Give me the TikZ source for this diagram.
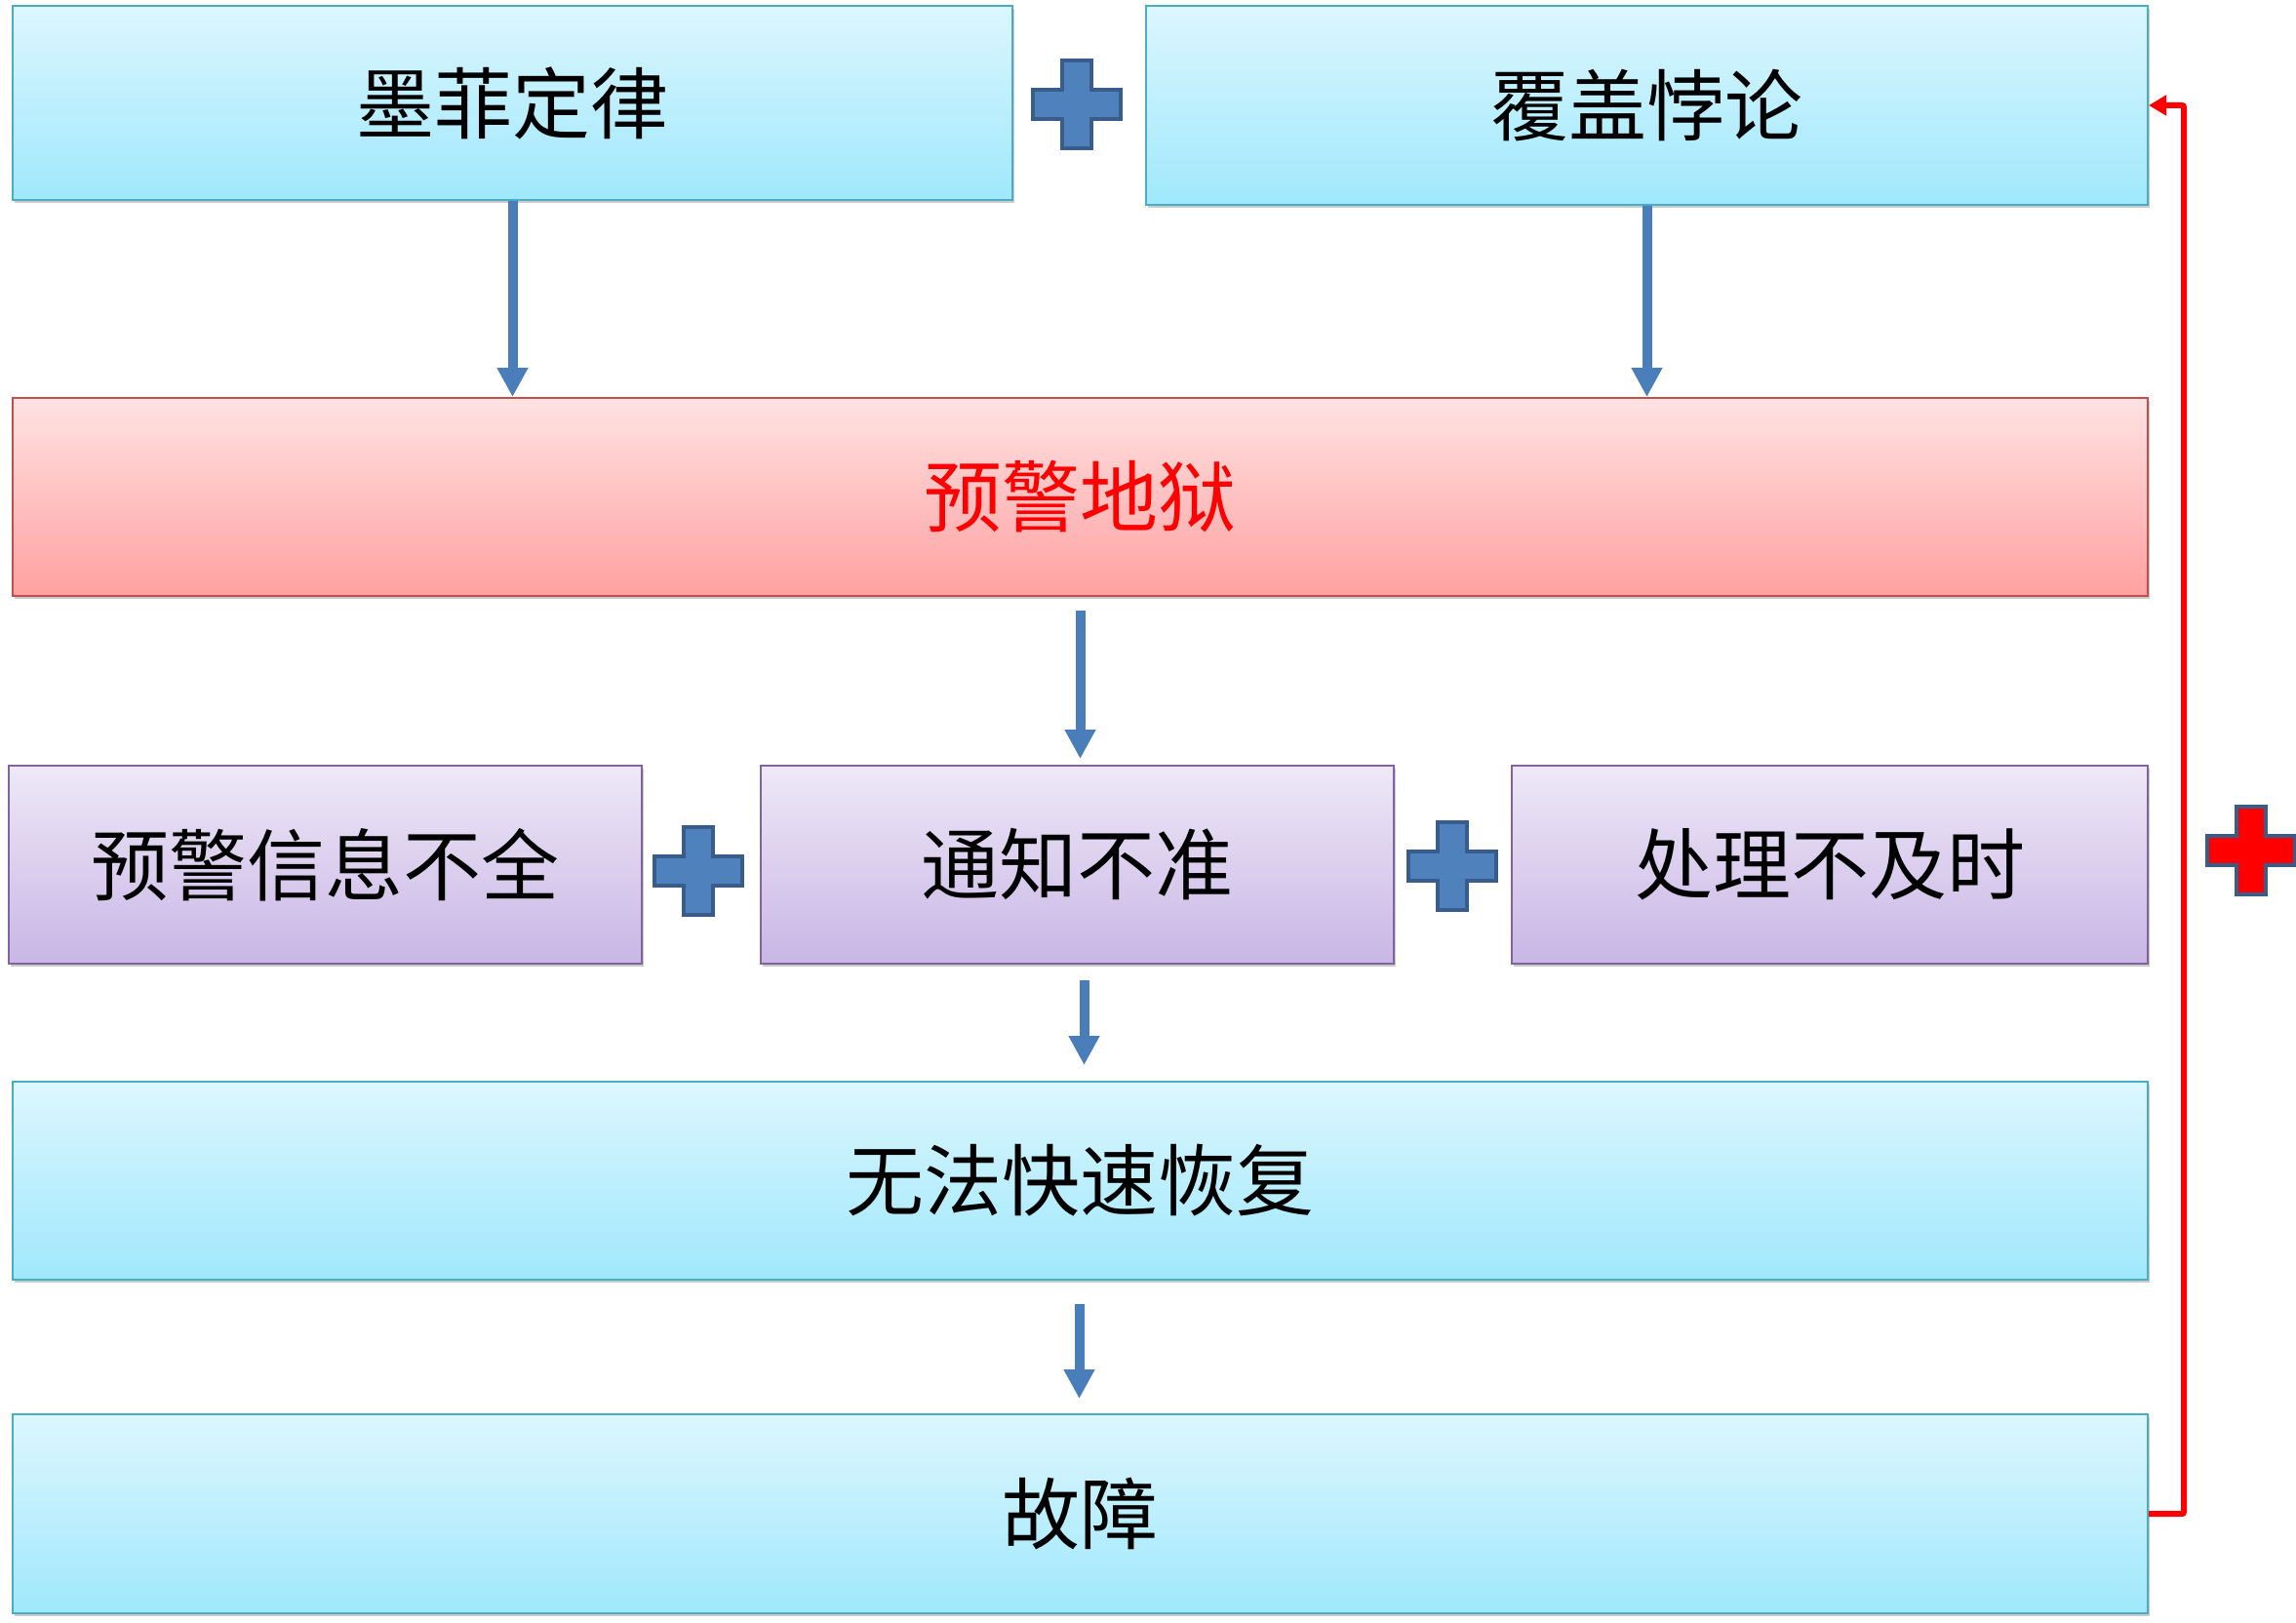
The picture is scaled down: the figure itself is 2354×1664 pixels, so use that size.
\documentclass[tikz,border=0pt]{standalone}
\usepackage{fontspec}
\setmainfont{Noto Sans CJK SC}
\usetikzlibrary{arrows.meta,shadows,calc}
\definecolor{bluetop}{HTML}{DCF6FE}
\definecolor{bluebot}{HTML}{9FE8FC}
\definecolor{blueedge}{HTML}{4BACC6}
\definecolor{pinktop}{HTML}{FFE2E2}
\definecolor{pinkbot}{HTML}{FFA0A0}
\definecolor{pinkedge}{HTML}{C0504D}
\definecolor{purptop}{HTML}{EEE8F7}
\definecolor{purpbot}{HTML}{C9B6E5}
\definecolor{purpedge}{HTML}{8064A2}
\definecolor{arrblue}{HTML}{4A7EBB}
\definecolor{plusfill}{HTML}{4F81BD}
\definecolor{plusedge}{HTML}{385D8A}
\definecolor{redc}{HTML}{FF0000}
\begin{document}
\begin{tikzpicture}[x=1pt,y=-1pt,
  boxbase/.style={rectangle, anchor=north west, inner sep=0pt, line width=2pt,
    font=\fontsize{80}{96}\selectfont,
    drop shadow={shadow xshift=2pt, shadow yshift=-3pt, opacity=0.35, fill=black!60}},
  bluebox/.style={boxbase, draw=blueedge, top color=bluetop, bottom color=bluebot},
  pinkbox/.style={boxbase, draw=pinkedge, top color=pinktop, bottom color=pinkbot, text=redc},
  purpbox/.style={boxbase, draw=purpedge, top color=purptop, bottom color=purpbot},
  arr/.style={draw=arrblue, line width=10pt, -{Triangle[width=30pt,length=30pt]}},
  redarr/.style={draw=redc, line width=6pt, rounded corners=2pt, -{Triangle[width=20pt,length=18pt]}},
  plussign/.pic={\draw[pic actions] (-15,-45) -- (15,-45) -- (15,-15) -- (45,-15) -- (45,15) -- (15,15) -- (15,45) -- (-15,45) -- (-15,15) -- (-45,15) -- (-45,-15) -- (-15,-15) -- cycle;},
  blueplus/.style={fill=plusfill, draw=plusedge, line width=4pt, line join=miter},
  redplus/.style={fill=redc, draw=plusedge, line width=4pt, line join=miter}
]
\useasboundingbox (0,0) rectangle (2354,1664);

\node[bluebox, minimum width=1025pt, minimum height=199pt] (b1) at (12,5) {墨菲定律};
\node[bluebox, minimum width=1027pt, minimum height=204pt] (b2) at (1174,5) {覆盖悖论};
\node[pinkbox, minimum width=2189pt, minimum height=203pt] (b3) at (12,407) {预警地狱};
\node[purpbox, minimum width=649pt, minimum height=203pt] (b4a) at (8,784) {预警信息不全};
\node[purpbox, minimum width=649pt, minimum height=203pt] (b4b) at (779,784) {通知不准};
\node[purpbox, minimum width=652pt, minimum height=203pt] (b4c) at (1549,784) {处理不及时};
\node[bluebox, minimum width=2189pt, minimum height=203pt] (b5) at (12,1108) {无法快速恢复};
\node[bluebox, minimum width=2189pt, minimum height=204pt] (b6) at (12,1449) {故障};

\pic[blueplus] at (1104,107) {plussign};
\pic[blueplus] at (716,893) {plussign};
\pic[blueplus] at (1489,888) {plussign};
\pic[redplus] at (2308,872) {plussign};

\draw[arr] (b1.south) -- (b1.south |- b3.north);
\draw[arr] (b2.south) -- (b2.south |- b3.north);
\draw[arr] ($(b3.south)+(0,14)$) -- ($(b3.south |- b4b.north)+(0,-6)$);
\draw[arr] ($(b4b.south)+(7,16)$) -- ($(b4b.south |- b5.north)+(7,-16)$);
\draw[arr] ($(b5.south)+(-1,24)$) -- ($(b5.south |- b6.north)+(-1,-15)$);

\draw[redarr] (b6.east) -- ++(36,0) |- (b2.east);
\end{tikzpicture}
\end{document}
